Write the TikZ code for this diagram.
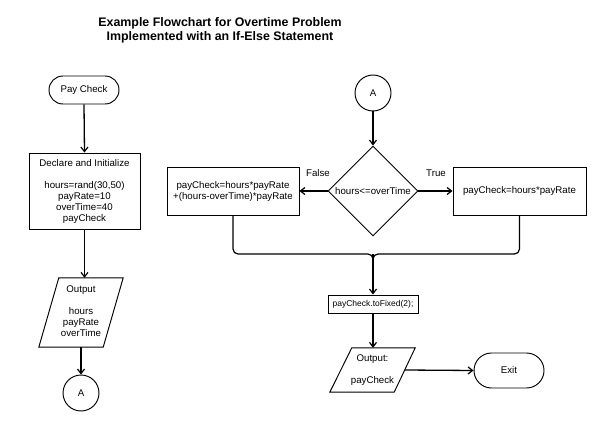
\documentclass[tikz,border=0pt]{standalone}
\usepackage{fontspec}
\setmainfont{Liberation Sans}
\usetikzlibrary{arrows.meta,shapes.misc,shapes.geometric}
\tikzset{
  base/.style={draw,line width=0.95pt,inner sep=0pt},
  term/.style={base,rounded rectangle,minimum width=70pt,minimum height=28pt},
  proc/.style={base,rectangle,align=center},
  conn/.style={base,circle,minimum size=36pt},
  dec/.style={base,diamond,aspect=1,minimum width=90pt,minimum height=90pt},
  iobox/.style={inner sep=0pt,rectangle,align=center},
  arr/.style={line width=1.3pt,-{Straight Barb[length=4.5pt,width=7pt,line width=1.2pt]}},
  lbl/.style={inner sep=0pt},
}
\begin{document}
\begin{tikzpicture}[x=1pt,y=-1pt,every node/.append style={font=\fontsize{9.7}{11}\selectfont}]
\fill[white] (0,0) rectangle (600,425);
\useasboundingbox (0,0) rectangle (600,425);

\node[font=\fontsize{12.4}{14}\selectfont\bfseries,align=center,inner sep=0pt] (title) at (220,30)
  {Example Flowchart for Overtime Problem\\Implemented with an If-Else Statement};

% left column
\node[term] (pay) at (84,90) {Pay Check};
\node[proc,minimum width=111pt,minimum height=76pt] (init) at (84.5,191)
  {Declare and Initialize\\[11pt]hours=rand(30,50)\\payRate=10\\overTime=40\\payCheck};
\node[iobox,minimum width=84pt,minimum height=69pt] (out1) at (81,312.5)
  {\raisebox{4.5pt}{\begin{tabular}{@{}c@{}}Output\\[11pt]hours\\payRate\\overTime\end{tabular}}};
\draw[base] ([xshift=20pt]out1.north west) -- (out1.north east)
  -- ([xshift=-20pt]out1.south east) -- (out1.south west) -- cycle;
\node[conn] (a1) at (81,393) {A};

\draw[arr] (pay.south) -- (init.north);
\draw[arr] (init.south) -- (init.south |- out1.north);
\draw[arr] (out1.south) -- (a1.north);

% right part
\node[conn] (a2) at (373,93) {A};
\node[dec] (dec) at (373,191) {hours<=overTime};
\node[proc,minimum width=132pt,minimum height=48pt] (fb) at (233,191)
  {payCheck=hours*payRate\\+(hours-overTime)*payRate};
\node[proc,minimum width=133pt,minimum height=48pt] (tb) at (519.5,191) {payCheck=hours*payRate};
\node[lbl] (flbl) at (318,173) {False};
\node[lbl] (tlbl) at (436,173) {True};

\draw[arr] (a2.south) -- (dec.north);
\draw[arr] (dec.west) -- (fb.east);
\draw[arr] (dec.east) -- (tb.west);

\coordinate (m) at (373,254);
\draw[line width=1.2pt,rounded corners=5pt] (fb.south) |- (m) -- ++(0,8);
\draw[line width=1.2pt,rounded corners=5pt] (tb.south) |- (m) -- ++(0,8);

\node[proc,minimum width=90pt,minimum height=18pt,font=\fontsize{8.5}{10}\selectfont] (fix) at (373,304) {payCheck.toFixed(2);};
\draw[arr] (m) -- (fix.north);

\node[iobox,minimum width=85pt,minimum height=44pt] (out2) at (372.5,370)
  {\begin{tabular}{@{}c@{}}Output:\\[11pt]payCheck\end{tabular}};
\draw[base] ([xshift=22pt]out2.north west) -- (out2.north east)
  -- ([xshift=-21pt]out2.south east) -- (out2.south west) -- cycle;
\coordinate (o2r) at ([xshift=-10.5pt]out2.east);
\node[term,minimum height=35pt] (exit) at (509,370.5) {Exit};

\draw[arr] (fix.south) -- (fix.south |- out2.north);
\draw[arr] (o2r) -- (exit.west);
\end{tikzpicture}
\end{document}
